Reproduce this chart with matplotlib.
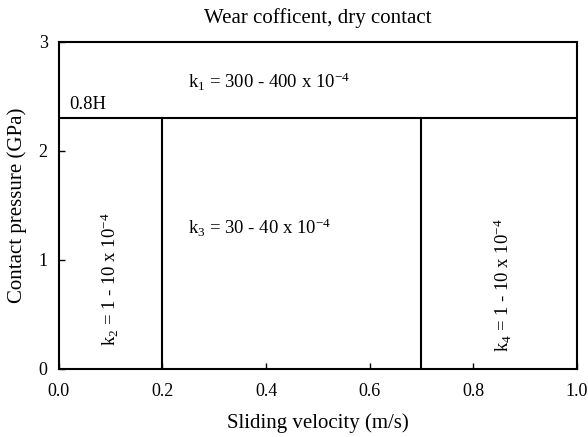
import matplotlib
matplotlib.use("Agg")
import matplotlib.pyplot as plt

plt.rcParams['font.family'] = ['Liberation Serif', 'DejaVu Serif']
plt.rcParams['mathtext.fontset'] = 'custom'
plt.rcParams['mathtext.rm'] = 'Liberation Serif'
plt.rcParams['mathtext.it'] = 'Liberation Serif'

# Data
pressure_limit = 2.3          # 0.8H boundary (GPa)
velocity_bounds = [0.2, 0.7]  # m/s
x_ticks = [0.0, 0.2, 0.4, 0.6, 0.8, 1.0]
y_ticks = [0, 1, 2, 3]
region_labels = [
    r'k$_{1}$ = 300 - 400 x 10$^{-4}$',
    r'k$_{2}$ = 1 - 10 x 10$^{-4}$',
    r'k$_{3}$ = 30 - 40 x 10$^{-4}$',
    r'k$_{4}$ = 1 - 10 x 10$^{-4}$',
]

fig = plt.figure(figsize=(5.88, 4.37), dpi=100)
ax = fig.add_axes([0.100, 0.156, 0.881, 0.748])
ax.set_xlim(0, 1)
ax.set_ylim(0, 3)

ax.axhline(pressure_limit, color='black', lw=1.5)
for v in velocity_bounds:
    ax.plot([v, v], [0, pressure_limit], color='black', lw=1.5)

fs = 13.5
ax.text(0.25, 2.63, region_labels[0], fontsize=fs, va='center', ha='left')
ax.text(0.02, 2.43, '0.8H', fontsize=fs, va='center', ha='left')
ax.text(0.098, 0.82, region_labels[1], fontsize=fs, va='center', ha='center', rotation=90)
ax.text(0.25, 1.29, region_labels[2], fontsize=fs, va='center', ha='left')
ax.text(0.857, 0.77, region_labels[3], fontsize=fs, va='center', ha='center', rotation=90)

ax.set_xticks(x_ticks)
ax.set_xticklabels([f'{t:.1f}' for t in x_ticks])
ax.set_yticks(y_ticks)
ax.tick_params(direction='in', length=4, labelsize=13, width=1)
ax.tick_params(axis='x', pad=10)
ax.tick_params(axis='y', pad=8)
for s in ax.spines.values():
    s.set_linewidth(1.5)

ax.set_xlabel('Sliding velocity (m/s)', fontsize=15, labelpad=10)
ax.set_ylabel('Contact pressure (GPa)', fontsize=15, labelpad=8)
ax.set_title('Wear cofficent, dry contact', fontsize=15, pad=14)

fig.savefig('out.png', dpi=100)
